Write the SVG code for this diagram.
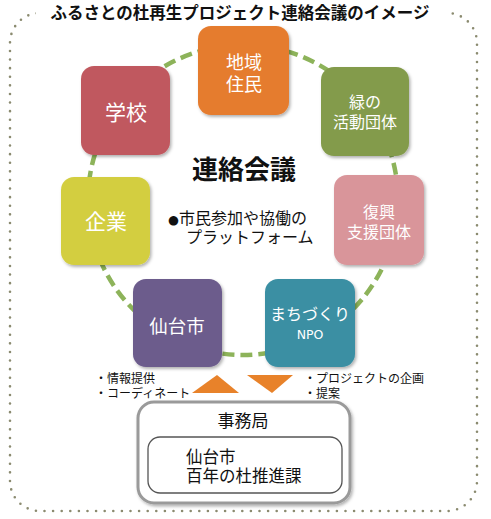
<svg xmlns="http://www.w3.org/2000/svg" width="491" height="519" viewBox="0 0 491 519">
<defs>
<filter id="sh" x="-20%" y="-20%" width="140%" height="140%">
<feDropShadow dx="1.5" dy="2" stdDeviation="1.8" flood-color="#000" flood-opacity="0.3"/>
</filter>
<style>
text{font-family:"DejaVu Sans","Noto Sans CJK JP",sans-serif;}
.n{fill:#fff;text-anchor:middle;}
.blk{fill:#111;}
.node rect{filter:url(#sh);}
</style>
</defs>
<rect width="491" height="519" fill="#fff"/>
<rect x="10" y="13" width="467" height="498" rx="30" fill="none" stroke="#8b8b70" stroke-width="2.6" stroke-dasharray="0 8.6" stroke-linecap="round"/>
<rect x="36" y="0" width="410" height="28" fill="#fff"/>
<text x="240" y="19" text-anchor="middle" font-size="16.5" font-weight="bold" class="blk">ふるさとの杜再生プロジェクト連絡会議のイメージ</text>

<g id="connectors">
<circle cx="243" cy="200" r="155" fill="none" stroke="#8db35a" stroke-width="4.5" stroke-dasharray="12 6"/>
<polygon points="192,393 239,393 217,375" fill="#e8822a"/>
<polygon points="247,375 293,375 272,393" fill="#e8822a"/>
</g>

<g id="n-chiiki" class="node">
<rect x="198" y="26" width="91" height="89" rx="13" fill="#e57c2e"/>
<text class="n" x="244" y="69" font-size="18">地域</text>
<text class="n" x="244" y="91" font-size="18">住民</text>
</g>
<g id="n-gakko" class="node">
<rect x="81" y="66" width="89" height="89" rx="13" fill="#c0595e"/>
<text class="n" x="126" y="120" font-size="21">学校</text>
</g>
<g id="n-midori" class="node">
<rect x="321" y="67" width="88" height="89" rx="13" fill="#839b4b"/>
<text class="n" x="365" y="108" font-size="16">緑の</text>
<text class="n" x="365" y="128" font-size="16">活動団体</text>
</g>
<g id="n-fukko" class="node">
<rect x="334" y="175" width="90" height="90" rx="13" fill="#d9959a"/>
<text class="n" x="379" y="218" font-size="16">復興</text>
<text class="n" x="379" y="238" font-size="16">支援団体</text>
</g>
<g id="n-kigyo" class="node">
<rect x="61" y="177" width="89" height="88" rx="13" fill="#d3ce41"/>
<text class="n" x="106" y="229" font-size="21">企業</text>
</g>
<g id="n-sendai" class="node">
<rect x="133" y="279" width="89" height="88" rx="13" fill="#6c5b8c"/>
<text class="n" x="177" y="333" font-size="18.5">仙台市</text>
</g>
<g id="n-npo" class="node">
<rect x="265" y="279" width="90" height="88" rx="13" fill="#3a8fa3"/>
<text class="n" x="310" y="320" font-size="16">まちづくり</text>
<text class="n" x="310" y="339" font-size="12.5">NPO</text>
</g>

<g id="center">
<text x="244" y="179" text-anchor="middle" font-size="26" font-weight="bold" class="blk">連絡会議</text>
<text x="168" y="224" font-size="16" class="blk"><tspan font-size="12.5">●</tspan>市民参加や協働の</text>
<text x="186" y="243" font-size="16" class="blk">プラットフォーム</text>
</g>

<g id="labels">
<text x="95" y="383" font-size="12" class="blk">・情報提供</text>
<text x="95" y="398" font-size="12" class="blk">・コーディネート</text>
<text x="304" y="383" font-size="12" class="blk">・プロジェクトの企画</text>
<text x="304" y="398" font-size="12" class="blk">・提案</text>
</g>

<g id="jimukyoku">
<rect x="138" y="402" width="212" height="101" rx="16" fill="#fff" stroke="#9a9a9a" stroke-width="3" filter="url(#sh)"/>
<text x="243" y="427" text-anchor="middle" font-size="17" class="blk">事務局</text>
<rect x="148" y="437" width="194" height="56" rx="12" fill="#fff" stroke="#555" stroke-width="1.3"/>
<text x="186" y="463" font-size="16.5" class="blk">仙台市</text>
<text x="186" y="482" font-size="16.5" class="blk">百年の杜推進課</text>
</g>
</svg>
